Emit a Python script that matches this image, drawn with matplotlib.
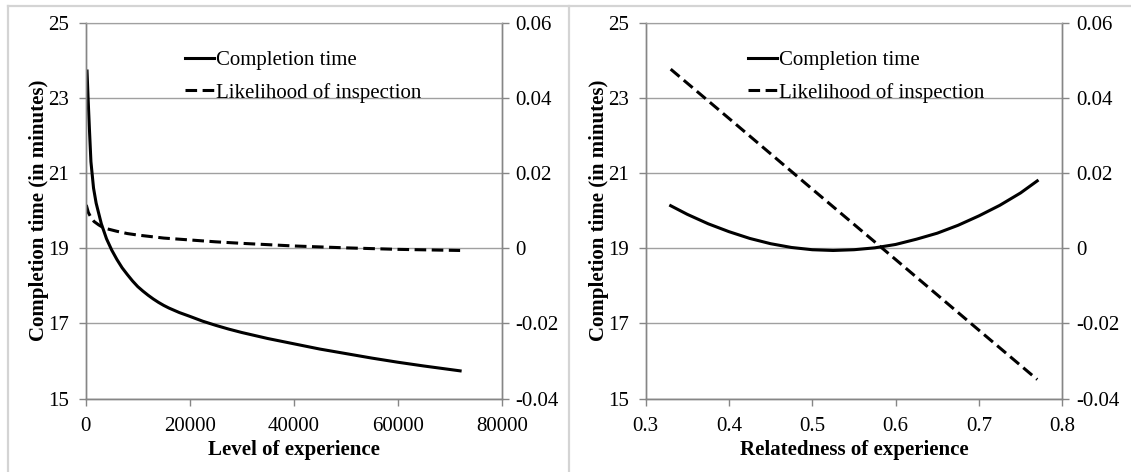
import matplotlib
matplotlib.use('Agg')
import matplotlib.pyplot as plt
from matplotlib.lines import Line2D
from matplotlib.ticker import FuncFormatter

plt.rcParams['font.family'] = ['Liberation Serif', 'DejaVu Serif']
plt.rcParams['axes.unicode_minus'] = False

# ----- DATA -----

# left panel: level of experience
exp_level = [250, 450, 700, 1000, 1500, 2000, 3000, 4000, 5000, 6000, 7000, 8000, 9000,
             10000, 11000, 12000, 13000, 14000, 15000, 16000, 18000, 20000, 22500,
             25000, 27500, 30000, 35000, 40000, 45000, 50000, 55000, 60000, 65000, 72000]
exp_time = [23.71, 23.0, 22.2, 21.3, 20.6, 20.2, 19.65, 19.25, 18.95, 18.7, 18.48, 18.3, 18.13,
            17.98, 17.86, 17.75, 17.65, 17.56, 17.48, 17.41, 17.29, 17.19, 17.06,
            16.95, 16.85, 16.76, 16.6, 16.46, 16.32, 16.2, 16.08, 15.97, 15.87, 15.74]
exp_level_insp = [100, 500, 1000, 1600, 2500, 3100, 4000, 6000, 8000, 10000, 15000,
                  20000, 25000, 30000, 40000, 50000, 60000, 72000]
exp_insp = [0.0115, 0.0095, 0.0082, 0.0071, 0.0062, 0.0057, 0.0052, 0.0045, 0.0039,
            0.0035, 0.0027, 0.0022, 0.0017, 0.0013, 0.0006, 0.0001, -0.0003, -0.0006]

# right panel: relatedness of experience
rel_level = [0.33, 0.35, 0.375, 0.40, 0.425, 0.45, 0.475, 0.50, 0.525, 0.55, 0.575,
             0.60, 0.625, 0.65, 0.675, 0.70, 0.725, 0.75, 0.77]
rel_time = [20.13, 19.90, 19.65, 19.44, 19.26, 19.12, 19.02, 18.96, 18.94, 18.96, 19.01,
            19.10, 19.24, 19.40, 19.61, 19.86, 20.14, 20.47, 20.79]
rel_level_insp = [0.33, 0.40, 0.50, 0.60, 0.70, 0.77]
rel_insp = [0.0476, 0.0345, 0.0157, -0.0030, -0.0218, -0.0349]

time_ticks = [15, 17, 19, 21, 23, 25]
insp_ticks = [-0.04, -0.02, 0, 0.02, 0.04, 0.06]
exp_ticks = [0, 20000, 40000, 60000, 80000]
rel_ticks = [0.3, 0.4, 0.5, 0.6, 0.7, 0.8]

FS = 15
AXIS_GRAY = '#868686'
GRID_GRAY = '#a0a0a0'


def insp_fmt(v, pos):
    if abs(v) < 1e-9:
        return '0'
    return f'{v:.2f}'


def make_panel(fig, rect, x1, y1, x2, y2, xticks, xlim, xlabel, xfmt, leg_x):
    ax = fig.add_axes(rect)
    ax2 = ax.twinx()

    l1, = ax.plot(x1, y1, color='black', lw=2.2, label='Completion time')
    l2, = ax2.plot(x2, y2, color='black', lw=2.2, ls=(0, (3.8, 1.8)),
                   label='Likelihood of inspection')

    ax.set_xlim(xlim)
    ax.set_ylim(15, 25)
    ax2.set_ylim(-0.04, 0.06)
    ax.set_xticks(xticks)
    ax.set_yticks(time_ticks)
    ax2.set_yticks(insp_ticks)
    ax.xaxis.set_major_formatter(FuncFormatter(xfmt))
    ax2.yaxis.set_major_formatter(FuncFormatter(insp_fmt))

    ax.yaxis.grid(True, color=GRID_GRAY, lw=1)
    ax.set_axisbelow(True)

    for a in (ax, ax2):
        a.spines['top'].set_color(GRID_GRAY)
        for s in ('left', 'right', 'bottom'):
            a.spines[s].set_color(AXIS_GRAY)
            a.spines[s].set_linewidth(1)
        a.tick_params(colors=AXIS_GRAY, labelcolor='black', labelsize=FS,
                      length=5, width=1)
    ax.tick_params(axis='y', pad=7)
    ax.tick_params(axis='x', pad=8)
    ax2.tick_params(axis='y', pad=5)

    ax.set_xlabel(xlabel, fontsize=FS, fontweight='bold')
    ax.set_ylabel('Completion time (in minutes)', fontsize=FS, fontweight='bold')
    ax.xaxis.set_label_coords(0.5, -0.11)
    ax.yaxis.set_label_coords(-0.088, 0.5)

    ax2.legend([l1, l2], ['Completion time', 'Likelihood of inspection'],
               loc='upper left', bbox_to_anchor=(leg_x, 0.925), frameon=False,
               fontsize=FS, handlelength=1.4, handletextpad=0.1,
               labelspacing=0.6, borderpad=0, borderaxespad=0)
    return ax


fig = plt.figure(figsize=(11.31, 4.72), dpi=100)

make_panel(fig, [0.0758, 0.1553, 0.3678, 0.797],
           exp_level, exp_time, exp_level_insp, exp_insp,
           exp_ticks, (0, 80000), 'Level of experience',
           lambda v, p: f'{int(v)}', 0.2387)
make_panel(fig, [0.5709, 0.1553, 0.3683, 0.797],
           rel_level, rel_time, rel_level_insp, rel_insp,
           rel_ticks, (0.3, 0.8), 'Relatedness of experience',
           lambda v, p: f'{v:.1f}', 0.2447)

# chart area borders
frame_kw = dict(color='#d4d4d4', lw=1.6, transform=fig.transFigure)
fig.add_artist(Line2D([0.0073, 1.0], [0.988, 0.988], **frame_kw))
fig.add_artist(Line2D([0.0073, 0.0073], [0.0, 0.988], **frame_kw))
fig.add_artist(Line2D([0.503, 0.503], [0.0, 0.988], **frame_kw))

fig.savefig('out.png', dpi=100)
